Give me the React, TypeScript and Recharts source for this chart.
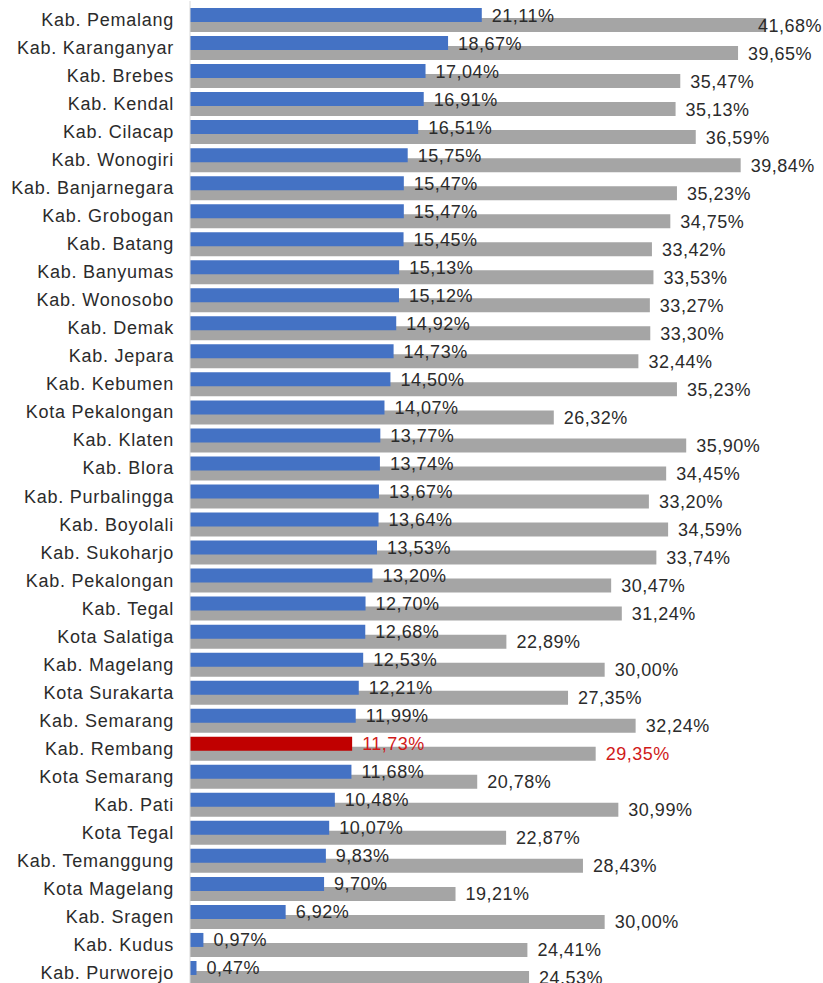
import { BarChart, Bar, XAxis, YAxis, Cell, LabelList } from 'recharts';

const regions = [
  'Kab. Pemalang', 'Kab. Karanganyar', 'Kab. Brebes', 'Kab. Kendal', 'Kab. Cilacap',
  'Kab. Wonogiri', 'Kab. Banjarnegara', 'Kab. Grobogan', 'Kab. Batang', 'Kab. Banyumas',
  'Kab. Wonosobo', 'Kab. Demak', 'Kab. Jepara', 'Kab. Kebumen', 'Kota Pekalongan',
  'Kab. Klaten', 'Kab. Blora', 'Kab. Purbalingga', 'Kab. Boyolali', 'Kab. Sukoharjo',
  'Kab. Pekalongan', 'Kab. Tegal', 'Kota Salatiga', 'Kab. Magelang', 'Kota Surakarta',
  'Kab. Semarang', 'Kab. Rembang', 'Kota Semarang', 'Kab. Pati', 'Kota Tegal',
  'Kab. Temanggung', 'Kota Magelang', 'Kab. Sragen', 'Kab. Kudus', 'Kab. Purworejo',
];

const blueValues = [
  21.11, 18.67, 17.04, 16.91, 16.51, 15.75, 15.47, 15.47, 15.45, 15.13,
  15.12, 14.92, 14.73, 14.5, 14.07, 13.77, 13.74, 13.67, 13.64, 13.53,
  13.2, 12.7, 12.68, 12.53, 12.21, 11.99, 11.73, 11.68, 10.48, 10.07,
  9.83, 9.7, 6.92, 0.97, 0.47,
];

const grayValues = [
  41.68, 39.65, 35.47, 35.13, 36.59, 39.84, 35.23, 34.75, 33.42, 33.53,
  33.27, 33.3, 32.44, 35.23, 26.32, 35.9, 34.45, 33.2, 34.59, 33.74,
  30.47, 31.24, 22.89, 30.0, 27.35, 32.24, 29.35, 20.78, 30.99, 22.87,
  28.43, 19.21, 30.0, 24.41, 24.53,
];

const highlight = 'Kab. Rembang';

const data = regions.map((name, i) => ({ name, a: blueValues[i], b: grayValues[i] }));

const FONT = 'Liberation Sans, Arial, sans-serif';
const TEXT = '#2b2b2b';
const RED_BAR = '#C00000';
const RED_TEXT = '#D01A1A';
const W = 823;

const fmt = (v: number) => v.toFixed(2).replace('.', ',') + '%';

// value label right of the bar, pulled back in when it would run off the right edge
const renderLabel = (props: any) => {
  const { x, y, width, height, value, index } = props;
  const red = regions[index] === highlight;
  let lx = x + width + 10;
  if (lx + 65 > W) lx = W - 65;
  return (
    <text
      x={lx}
      y={y + height / 2 + 0.5}
      dominantBaseline="central"
      fontFamily={FONT}
      fontSize={18}
      letterSpacing={0.5}
      fill={red ? RED_TEXT : TEXT}
    >
      {fmt(value)}
    </text>
  );
};

const renderTick = (props: any) => {
  const { x, y, payload } = props;
  return (
    <text
      x={x}
      y={y + 5}
      textAnchor="end"
      dominantBaseline="central"
      fontFamily={FONT}
      fontSize={18}
      letterSpacing={0.75}
      fill={TEXT}
    >
      {payload.value}
    </text>
  );
};

export default function App() {
  return (
    <div style={{ position: 'absolute', left: 0, top: 0, width: W, height: 983, overflow: 'hidden', background: '#fff' }}>
      <BarChart
        width={W}
        height={992}
        data={data}
        layout="vertical"
        margin={{ top: 1, right: 11, bottom: 0, left: 0 }}
      >
        <XAxis type="number" domain={[0, 45]} hide />
        <YAxis
          yAxisId="a"
          type="category"
          dataKey="name"
          width={190}
          padding={{ top: 0, bottom: 10 }}
          axisLine={{ stroke: '#D9D9D9' }}
          tickLine={false}
          tickSize={0}
          tickMargin={16}
          tick={renderTick}
          interval={0}
        />
        <YAxis
          yAxisId="b"
          type="category"
          dataKey="name"
          hide
          padding={{ top: 10, bottom: 0 }}
        />
        <Bar yAxisId="b" dataKey="b" fill="#A5A5A5" barSize={14} isAnimationActive={false}>
          <LabelList dataKey="b" content={renderLabel} />
        </Bar>
        <Bar yAxisId="a" dataKey="a" fill="#4472C4" barSize={14} isAnimationActive={false}>
          {data.map((d) => (
            <Cell key={d.name} fill={d.name === highlight ? RED_BAR : '#4472C4'} />
          ))}
          <LabelList dataKey="a" content={renderLabel} />
        </Bar>
      </BarChart>
    </div>
  );
}
